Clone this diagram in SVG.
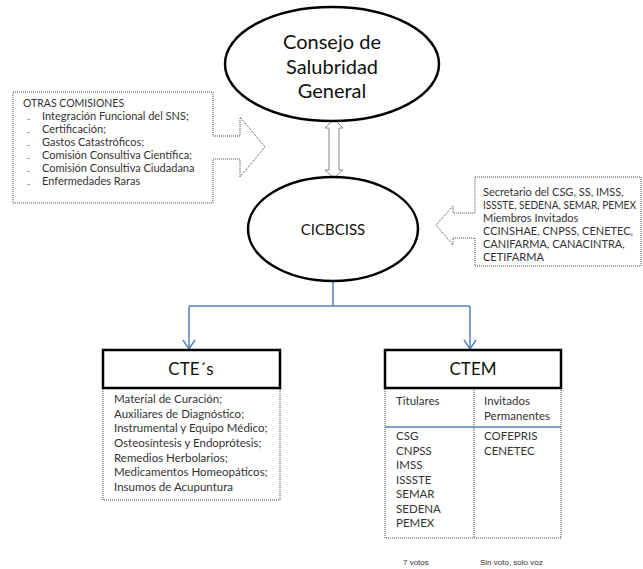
<svg xmlns="http://www.w3.org/2000/svg" width="643" height="569" viewBox="0 0 643 569">
<defs>
<style>
.ell{fill:#fff;stroke:#000;stroke-width:2.5}
.dot{fill:#fff;stroke:#444;stroke-width:1;stroke-dasharray:1 1}
.hdr{fill:#fff;stroke:#000;stroke-width:2.5}
.blue{fill:none;stroke:#4f81bd;stroke-width:1.5}
.t{font-family:Lato,"Open Sans","Liberation Sans",sans-serif;fill:#333}
.big{font-size:20px;fill:#111;text-anchor:middle}
.mid{font-size:15px;fill:#111;text-anchor:middle}
.hd{font-size:17px;fill:#111;text-anchor:middle}
.s{font-size:10.5px}
.m{font-size:11px}
.l{font-size:11.5px}
.b{font-size:7px}
.f{font-family:"Liberation Sans",Arial,sans-serif;font-size:8px;fill:#333}
</style>
</defs>

<g id="connectors">
<path id="dbl" d="M334,119 L343,128 L339,128 L339,170 L343,170 L334,178 L325,170 L329,170 L329,128 L325,128 Z" fill="#fff" stroke="#888" stroke-width="1"/>
<path class="blue" d="M333,281 V306"/>
<path class="blue" d="M189,306 H470"/>
<path class="blue" d="M189,306 V349"/>
<path class="blue" d="M470,306 V349"/>
<path d="M183,340 L189,349 L195,340" fill="none" stroke="#4f81bd" stroke-width="1.5"/>
<path d="M464,340 L470,349 L476,340" fill="none" stroke="#4f81bd" stroke-width="1.5"/>
</g>

<g id="consejo">
<ellipse class="ell" cx="332" cy="64" rx="107" ry="57"/>
<text class="t big" x="332" y="49">Consejo de</text>
<text class="t big" x="332" y="74">Salubridad</text>
<text class="t big" x="332" y="98">General</text>
</g>

<g id="cicbciss">
<ellipse class="ell" cx="333" cy="229" rx="85" ry="52"/>
<text class="t mid" x="333" y="235">CICBCISS</text>
</g>

<g id="otras">
<path class="dot" d="M13,92 H213 V136 H240 V117 L265,147 L240,177 V159 H213 V203 H13 Z"/>
<text class="t s" x="23" y="107">OTRAS COMISIONES</text>
<g class="t b">
<text x="27" y="119">_</text>
<text x="27" y="132">_</text>
<text x="27" y="145">_</text>
<text x="27" y="158">_</text>
<text x="27" y="171">_</text>
<text x="27" y="184">_</text>
</g>
<g class="t m">
<text x="42" y="120">Integración Funcional del SNS;</text>
<text x="42" y="133">Certificación;</text>
<text x="42" y="146">Gastos Catastróficos;</text>
<text x="42" y="159">Comisión Consultiva Científica;</text>
<text x="42" y="172">Comisión Consultiva Ciudadana</text>
<text x="42" y="185">Enfermedades Raras</text>
</g>
</g>

<g id="secretario">
<path class="dot" d="M475,177 H641 V266 H475 V238 H453 V245 L436,225 L453,206 V213 H475 Z"/>
<g class="t m">
<text x="483" y="196">Secretario del CSG, SS, IMSS,</text>
<text x="483" y="209" textLength="153" lengthAdjust="spacingAndGlyphs">ISSSTE, SEDENA, SEMAR, PEMEX</text>
<text x="483" y="222">Miembros Invitados</text>
<text x="483" y="235">CCINSHAE, CNPSS, CENETEC,</text>
<text x="483" y="248">CANIFARMA, CANACINTRA,</text>
<text x="483" y="261">CETIFARMA</text>
</g>
</g>

<g id="ctes">
<rect class="dot" x="103" y="388" width="177" height="112"/>
<rect class="hdr" x="103" y="350" width="177" height="38"/>
<text class="t hd" x="191" y="375">CTE´s</text>
<g class="t l">
<text x="114" y="403">Material de Curación;</text>
<text x="114" y="418">Auxiliares de Diagnóstico;</text>
<text x="114" y="432">Instrumental y Equipo Médico;</text>
<text x="114" y="447">Osteosíntesis y Endoprótesis;</text>
<text x="114" y="462">Remedios Herbolarios;</text>
<text x="114" y="476">Medicamentos Homeopáticos;</text>
<text x="114" y="491">Insumos de Acupuntura</text>
</g>
</g>

<g id="ctem">
<rect class="dot" x="385" y="388" width="176" height="150"/>
<line x1="474" y1="388" x2="474" y2="538" stroke="#444" stroke-dasharray="1 1"/>
<line x1="385" y1="427" x2="561" y2="427" stroke="#4f81bd" stroke-width="1.5"/>
<rect class="hdr" x="385" y="350" width="176" height="38"/>
<text class="t hd" x="473" y="375">CTEM</text>
<g class="t l">
<text x="396" y="405">Titulares</text>
<text x="484" y="405">Invitados</text>
<text x="484" y="420">Permanentes</text>
<text x="396" y="440">CSG</text>
<text x="396" y="455">CNPSS</text>
<text x="396" y="469">IMSS</text>
<text x="396" y="484">ISSSTE</text>
<text x="396" y="498">SEMAR</text>
<text x="396" y="513">SEDENA</text>
<text x="396" y="527">PEMEX</text>
<text x="484" y="440">COFEPRIS</text>
<text x="484" y="455">CENETEC</text>
</g>
<text class="f" x="403" y="565">7 votos</text>
<text class="f" x="480" y="565">Sin voto, solo voz</text>
</g>
</svg>
